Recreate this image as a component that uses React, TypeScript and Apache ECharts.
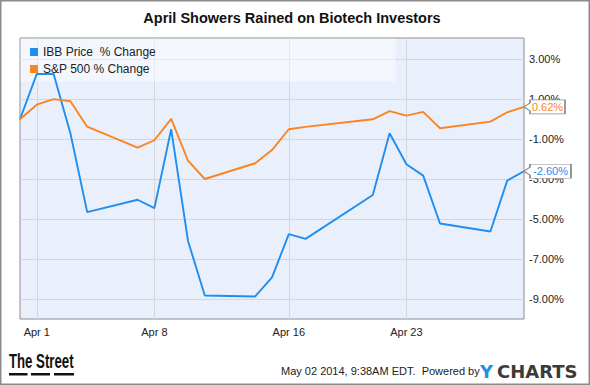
import React, { useEffect, useRef } from 'react';
import * as echarts from 'echarts';

const dates = [
  '2014-03-31', '2014-04-01', '2014-04-02', '2014-04-03', '2014-04-04',
  '2014-04-07', '2014-04-08', '2014-04-09', '2014-04-10', '2014-04-11',
  '2014-04-14', '2014-04-15', '2014-04-16', '2014-04-17',
  '2014-04-21', '2014-04-22', '2014-04-23', '2014-04-24', '2014-04-25',
  '2014-04-28', '2014-04-29', '2014-04-30',
];
const ibbChange = [
  0, 2.27, 2.27, -0.7, -4.65,
  -4.03, -4.45, -0.5, -6.09, -8.82,
  -8.87, -7.92, -5.75, -5.99,
  -3.79, -0.7, -2.25, -2.82, -5.22,
  -5.62, -3.07, -2.6,
];
const spxChange = [
  0, 0.73, 1.01, 0.9, -0.37,
  -1.42, -1.05, 0.02, -2.07, -2.99,
  -2.2, -1.54, -0.5, -0.38,
  0.0, 0.41, 0.18, 0.37, -0.45,
  -0.12, 0.35, 0.62,
];
const seriesNames = ['IBB Price  % Change', 'S&P 500 % Change'];
const yTickValues = [-9, -7, -5, -3, -1, 1, 3];
const xTickDates = ['2014-04-01', '2014-04-08', '2014-04-16', '2014-04-23'];
const titleText = 'April Showers Rained on Biotech Investors';
const stampText = 'May 02 2014, 9:38AM EDT.  Powered by';
const brandText = 'The Street';
const MONTHS = ['Jan', 'Feb', 'Mar', 'Apr', 'May', 'Jun', 'Jul', 'Aug', 'Sep', 'Oct', 'Nov', 'Dec'];

const toTs = (s: string) => {
  const [y, m, d] = s.split('-').map(Number);
  return new Date(y, m - 1, d).getTime();
};

const BLUE = '#1f8ef0';
const ORANGE = '#fb8420';
const FONT = '"Liberation Sans", Arial, Helvetica, sans-serif';

export default function App() {
  const ref = useRef<HTMLDivElement>(null);
  useEffect(() => {
    document.body.style.margin = '0';
    const chart = echarts.init(ref.current!, null, { renderer: 'svg' });
    const last = dates.length - 1;
    const flag = (w: number) => `path://M0,7L6,3L6,0L${w},0L${w},14L6,14L6,11Z`;
    const markFor = (vals: number[], color: string, w: number) => ({
      silent: true,
      symbol: flag(w),
      symbolSize: [w, 14],
      symbolOffset: [w / 2, 0],
      itemStyle: { color: '#ffffff', borderColor: '#8c8c8c', borderWidth: 1 },
      label: {
        show: true,
        position: 'inside',
        offset: [3, 0],
        color,
        fontSize: 11,
        fontFamily: FONT,
        formatter: (p: any) => Number(p.value).toFixed(2) + '%',
      },
      data: [{ coord: [toTs(dates[last]), vals[last]], value: vals[last] }],
    });
    const mkData = (vals: number[]) => dates.map((d, i) => [toTs(d), vals[i]]);

    chart.setOption({
      animation: false,
      backgroundColor: '#ffffff',
      grid: {
        left: 20, right: 66, top: 38, bottom: 66,
        show: true,
        backgroundColor: '#eaf0fb',
        borderColor: '#8c8c8c',
        borderWidth: 1,
      },
      legend: {
        orient: 'vertical',
        left: 30,
        top: 45,
        padding: 0,
        itemGap: 3,
        itemWidth: 8,
        itemHeight: 8,
        icon: 'rect',
        z: 6,
        textStyle: { fontSize: 12, color: '#222', fontFamily: FONT, lineHeight: 14 },
        data: seriesNames,
      },
      xAxis: {
        type: 'value',
        min: toTs(dates[0]),
        max: toTs(dates[last]),
        axisLine: { show: false },
        axisTick: { show: false, customValues: xTickDates.map(toTs) },
        axisLabel: {
          customValues: xTickDates.map(toTs),
          formatter: (v: number) => {
            const d = new Date(v);
            return MONTHS[d.getMonth()] + ' ' + d.getDate();
          },
          color: '#222',
          fontSize: 11,
          fontFamily: FONT,
          margin: 7,
        },
        splitLine: { show: true, lineStyle: { color: '#d3d6db', width: 1 } },
      },
      yAxis: {
        type: 'value',
        position: 'right',
        min: -10,
        max: 4.07,
        axisLine: { show: false },
        axisTick: { show: false, customValues: yTickValues },
        axisLabel: {
          customValues: yTickValues,
          formatter: (v: number) => v.toFixed(2) + '%',
          color: '#222',
          fontSize: 11,
          fontFamily: FONT,
          margin: 5,
        },
        splitLine: { show: true, lineStyle: { color: '#d3d6db', width: 1 } },
      },
      series: [
        {
          name: seriesNames[0],
          type: 'line',
          data: mkData(ibbChange),
          showSymbol: false,
          color: BLUE,
          lineStyle: { color: BLUE, width: 1.9 },
          markPoint: markFor(ibbChange, BLUE, 47),
        },
        {
          name: seriesNames[1],
          type: 'line',
          data: mkData(spxChange),
          showSymbol: false,
          color: ORANGE,
          lineStyle: { color: ORANGE, width: 1.9 },
          markPoint: markFor(spxChange, ORANGE, 41),
        },
      ],
      graphic: [
        {
          type: 'rect',
          z: 3,
          silent: true,
          shape: { x: 20.5, y: 38.5, width: 375, height: 43 },
          style: { fill: 'rgba(255,255,255,0.45)' },
        },
        {
          type: 'text',
          z: 5,
          x: 292,
          y: 18,
          style: {
            text: titleText,
            fill: '#111',
            font: 'bold 14.5px ' + FONT,
            textAlign: 'center',
            textVerticalAlign: 'middle',
          },
        },
        {
          type: 'text',
          z: 5,
          x: 9,
          y: 362,
          scaleX: 0.66,
          style: {
            text: brandText,
            fill: '#111',
            font: 'bold 20px ' + FONT,
            textAlign: 'left',
            textVerticalAlign: 'middle',
          },
        },
        { type: 'rect', z: 5, shape: { x: 9, y: 373, width: 18.5, height: 2.5 }, style: { fill: '#111' } },
        { type: 'rect', z: 5, shape: { x: 31, y: 373, width: 19, height: 2.5 }, style: { fill: '#111' } },
        { type: 'rect', z: 5, shape: { x: 54, y: 373, width: 20, height: 2.5 }, style: { fill: '#111' } },
        {
          type: 'text',
          z: 5,
          x: 281,
          y: 371,
          style: {
            text: stampText,
            fill: '#222',
            font: '11px ' + FONT,
            textAlign: 'left',
            textVerticalAlign: 'middle',
          },
        },
        {
          type: 'text',
          z: 5,
          x: 480,
          y: 371,
          style: {
            text: 'Y',
            fill: '#1e90e6',
            font: 'bold 18px "DejaVu Sans", sans-serif',
            textAlign: 'left',
            textVerticalAlign: 'middle',
          },
        },
        {
          type: 'text',
          z: 5,
          x: 497,
          y: 371,
          style: {
            text: 'CHARTS',
            fill: '#3a3a3a',
            font: 'bold 18px "DejaVu Sans", sans-serif',
            textAlign: 'left',
            textVerticalAlign: 'middle',
          },
        },
        {
          type: 'rect',
          z: 10,
          silent: true,
          shape: { x: 0, y: 0, width: 590, height: 385 },
          style: { fill: 'none', stroke: '#8c8c8c', lineWidth: 3 },
        },
      ],
    });
    return () => chart.dispose();
  }, []);
  return <div ref={ref} style={{ position: 'absolute', left: 0, top: 0, width: 590, height: 385 }} />;
}
